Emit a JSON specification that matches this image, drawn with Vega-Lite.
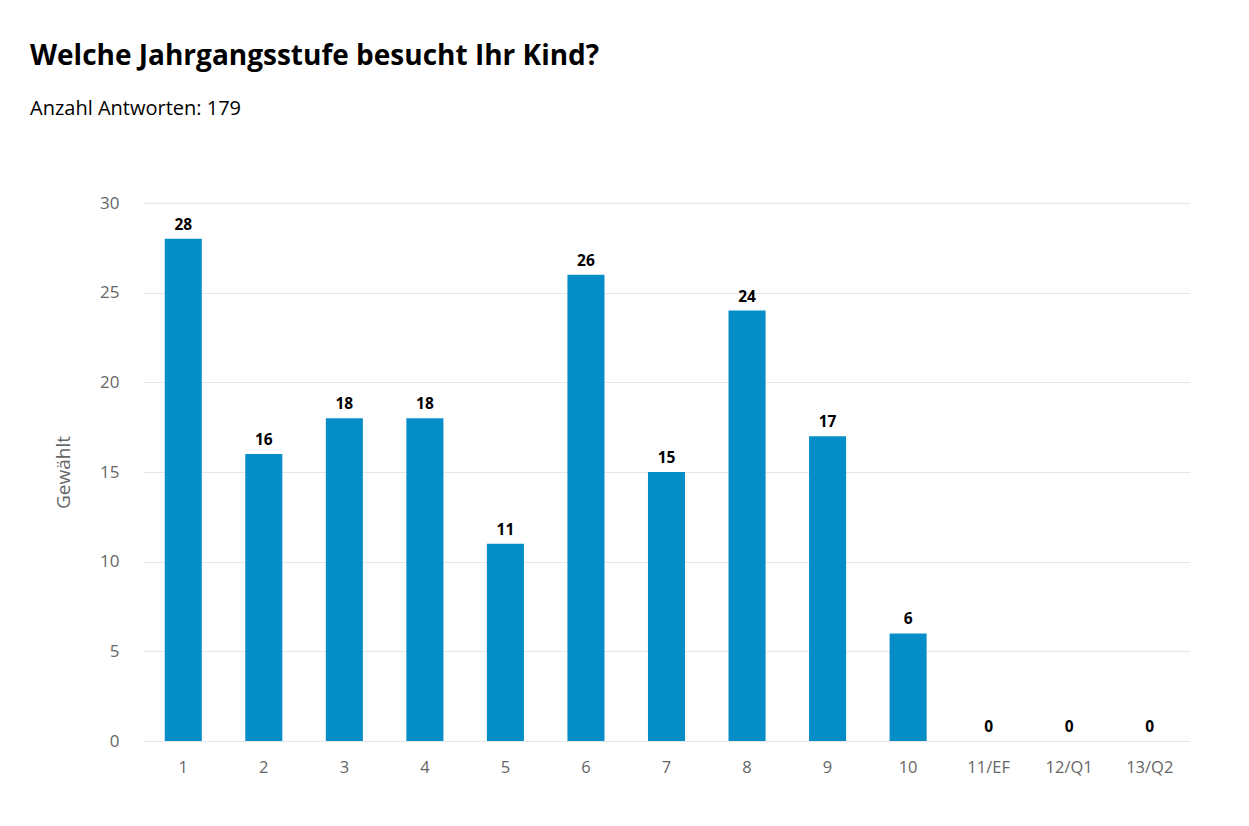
{
  "$schema": "https://vega.github.io/schema/vega-lite/v6.json",
  "autosize": "none",
  "width": 1047,
  "height": 538,
  "padding": {"left": 143, "top": 203, "right": 59, "bottom": 85},
  "background": "white",
  "config": {"font": "Open Sans", "view": {"stroke": null}},
  "title": {
    "text": "Welche Jahrgangsstufe besucht Ihr Kind?",
    "subtitle": "Anzahl Antworten: 179",
    "anchor": "start",
    "frame": "group",
    "dx": -113,
    "offset": 75,
    "font": "Open Sans",
    "fontSize": 28,
    "fontWeight": "bold",
    "color": "#000000",
    "subtitleFont": "Open Sans",
    "subtitleFontSize": 20,
    "subtitleColor": "#000000",
    "subtitlePadding": 28
  },
  "data": {
    "values": [
      {"stufe": "1", "anzahl": 28},
      {"stufe": "2", "anzahl": 16},
      {"stufe": "3", "anzahl": 18},
      {"stufe": "4", "anzahl": 18},
      {"stufe": "5", "anzahl": 11},
      {"stufe": "6", "anzahl": 26},
      {"stufe": "7", "anzahl": 15},
      {"stufe": "8", "anzahl": 24},
      {"stufe": "9", "anzahl": 17},
      {"stufe": "10", "anzahl": 6},
      {"stufe": "11/EF", "anzahl": 0},
      {"stufe": "12/Q1", "anzahl": 0},
      {"stufe": "13/Q2", "anzahl": 0}
    ]
  },
  "encoding": {
    "x": {
      "field": "stufe",
      "type": "nominal",
      "sort": null,
      "scale": {"paddingInner": 0.54, "paddingOuter": 0.27},
      "axis": {
        "title": null,
        "labelAngle": 0,
        "labelFontSize": 16.5,
        "labelColor": "#666666",
        "labelPadding": 18,
        "ticks": false,
        "domain": false,
        "grid": false
      }
    },
    "y": {
      "field": "anzahl",
      "type": "quantitative",
      "scale": {"domain": [0, 30], "nice": false},
      "axis": {
        "title": "Gewählt",
        "titleFontSize": 19,
        "titleFontWeight": "normal",
        "titleColor": "#666666",
        "titlePadding": 26,
        "values": [0, 5, 10, 15, 20, 25, 30],
        "labelFontSize": 17,
        "labelColor": "#666666",
        "labelPadding": 24,
        "ticks": false,
        "domain": false,
        "grid": true,
        "gridColor": "#e6e6e6",
        "gridWidth": 1
      }
    }
  },
  "layer": [
    {"mark": {"type": "bar", "color": "#058dc7"}},
    {
      "mark": {
        "type": "text",
        "baseline": "bottom",
        "dy": -6,
        "fontSize": 15.5,
        "fontWeight": "bold",
        "color": "#000000"
      },
      "encoding": {"text": {"field": "anzahl", "type": "quantitative"}}
    }
  ]
}
